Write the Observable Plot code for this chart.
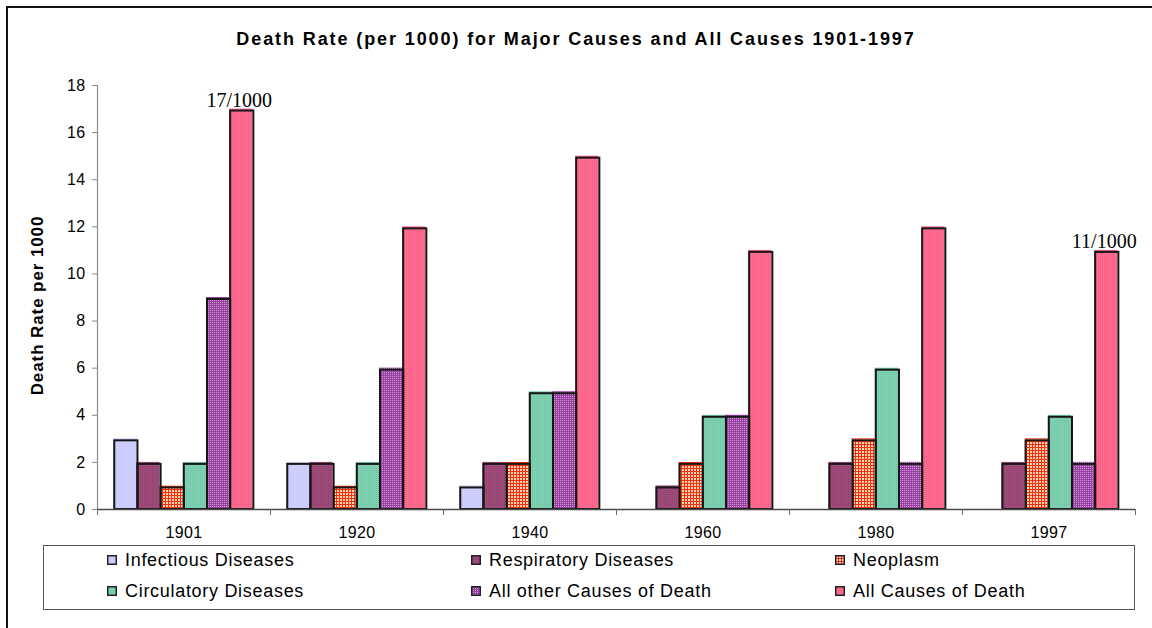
<!DOCTYPE html>
<html>
<head>
<meta charset="utf-8">
<script src="https://cdn.jsdelivr.net/npm/d3@7"></script>
<script src="https://cdn.jsdelivr.net/npm/@observablehq/plot@0.6"></script>
<style>
  body { margin: 0; background: #fff; }
  #wrap { position: relative; width: 1152px; height: 628px; overflow: hidden;
          font-family: Arial, "Liberation Sans", sans-serif; color: #000; }
  #frame { position: absolute; left: 6px; top: 6px; width: 1300px; height: 800px;
           border-left: 2px solid #111; border-top: 2px solid #111; }
  #title { position: absolute; left: 0; top: 30px; width: 1152px; text-align: center;
           font-weight: bold; font-size: 18px; line-height: 18px; letter-spacing: 1.9px; }
  #chart { position: absolute; left: 0; top: 0; }
  #chart g[aria-label$="tick label"],
  #chart g[aria-label$="tick label"] text { font-size: 16px !important; letter-spacing: 0.4px; }
  #legend { position: absolute; left: 43px; top: 545px; width: 1090px; height: 63px;
            border: 1px solid #555; background: #fff; }
  .item { position: absolute; font-size: 18px; line-height: 18px; letter-spacing: 0.7px; white-space: nowrap; }
  .item svg { position: absolute; left: 0; top: 4px; overflow: visible; }
  .item span { position: absolute; left: 18px; top: 0; }
</style>
</head>
<body>
<div id="wrap">
  <svg width="0" height="0" style="position:absolute">
    <defs>
      <pattern id="fill-inf" width="2" height="2" patternUnits="userSpaceOnUse">
        <rect width="2" height="2" fill="#CFCFFF"/><rect width="1" height="1" fill="#C6C6F6"/>
      </pattern>
      <pattern id="fill-resp" width="2" height="2" patternUnits="userSpaceOnUse">
        <rect width="2" height="2" fill="#A04C7A"/><rect width="1" height="1" fill="#8E3C68"/>
      </pattern>
      <pattern id="fill-neo" width="3" height="3" patternUnits="userSpaceOnUse">
        <rect width="3" height="3" fill="#F2300E"/><rect x="1" y="1" width="2" height="2" fill="#FFD2B4"/>
      </pattern>
      <pattern id="fill-circ" width="2" height="2" patternUnits="userSpaceOnUse">
        <rect width="2" height="2" fill="#80D0B2"/><rect width="1" height="1" fill="#6CC2A2"/>
      </pattern>
      <pattern id="fill-other" width="2" height="2" patternUnits="userSpaceOnUse">
        <rect width="2" height="2" fill="#9640A0"/><rect width="1" height="1" fill="#D49ADC"/>
      </pattern>
      <pattern id="fill-all" width="2" height="2" patternUnits="userSpaceOnUse">
        <rect width="2" height="2" fill="#FF6C90"/><rect width="1" height="1" fill="#F25A82"/>
      </pattern>
    </defs>
  </svg>
  <div id="frame"></div>
  <div id="title">Death Rate (per 1000) for Major Causes and All Causes 1901-1997</div>
  <div id="chart"></div>
  <div id="legend"></div>
</div>
<script>
// Years on the category axis
const years = ["1901", "1920", "1940", "1960", "1980", "1997"];

// Series names (legend order)
const causes = [
  "Infectious Diseases",
  "Respiratory Diseases",
  "Neoplasm",
  "Circulatory Diseases",
  "All other Causes of Death",
  "All Causes of Death"
];

// Death rate per 1000, one value per year
const infectious  = [3, 2, 1, 0, 0, 0];
const respiratory = [2, 2, 2, 1, 2, 2];
const neoplasm    = [1, 1, 2, 2, 3, 3];
const circulatory = [2, 2, 5, 4, 6, 4];
const allOther    = [9, 6, 5, 4, 2, 2];
const allCauses   = [17, 12, 15, 11, 12, 11];

// Fill for each series (patterns defined in the page's <defs>)
const fills = ["url(#fill-inf)", "url(#fill-resp)", "url(#fill-neo)",
               "url(#fill-circ)", "url(#fill-other)", "url(#fill-all)"];

// Y axis ticks
const yTicks = [0, 2, 4, 6, 8, 10, 12, 14, 16, 18];

// Years whose total is annotated
const annotatedYears = ["1901", "1997"];

const yLabel = "Death Rate per 1000";

// Long table for the bars
const series = [infectious, respiratory, neoplasm, circulatory, allOther, allCauses];
const rows = [];
years.forEach((year, gi) => {
  causes.forEach((cause, si) => {
    rows.push({ year, gi, cause, si, value: series[si][gi] });
  });
});

// Grouped layout inside each unit-wide year band
const barW = 0.134;
const gap = 0.094;
const x1 = d => d.gi - 0.5 + gap + d.si * barW;
const x2 = d => d.gi - 0.5 + gap + (d.si + 1) * barW;

const notes = annotatedYears.map(y => {
  const gi = years.indexOf(y);
  return { gi, si: causes.length - 1, value: allCauses[gi], text: `${allCauses[gi]}/1000` };
});

const boundaries = d3.range(years.length + 1).map(i => i - 0.5);
const centers = d3.range(years.length);

const chart = Plot.plot({
  width: 1152,
  height: 545,
  marginLeft: 97,
  marginRight: 17,
  marginTop: 85,
  marginBottom: 36,
  x: { domain: [-0.5, years.length - 0.5], axis: null },
  y: { domain: [0, 18], axis: null },
  color: { domain: causes, range: fills },
  style: { fontFamily: "Arial, 'Liberation Sans', sans-serif", fontSize: "16px",
           color: "#000", background: "transparent", overflow: "visible" },
  marks: [
    Plot.rectY(rows.filter(d => d.value > 0), { x1, x2, y1: 0, y2: "value", fill: "cause" }),
    Plot.rectY(rows.filter(d => d.value > 0), {
      x1, x2, y1: 0, y2: "value", fill: "none",
      stroke: "#161616", strokeWidth: 2, dx: 1, dy: 2, insetBottom: 2
    }),
    Plot.ruleX([-0.5], { y1: 0, y2: 18, stroke: "#8a8a8a", strokeWidth: 1.2 }),
    Plot.ruleY([0], { stroke: "#4a4a4a", strokeWidth: 1.5 }),
    Plot.axisY({ ticks: yTicks, tickSize: 5, tickPadding: 7, stroke: "#8a8a8a",
                 fill: "#000", fontSize: 16, label: null }),
    Plot.axisX({ ticks: boundaries, tickSize: 6, tickFormat: () => "", stroke: "#6a6a6a", label: null }),
    Plot.axisX({ ticks: centers, tickSize: 0, tickPadding: 17, tickFormat: i => years[i],
                 fill: "#000", fontSize: 16, label: null }),
    Plot.text(notes, {
      x: d => d.gi - 0.5 + gap + (d.si + 0.5) * barW, y: "value", text: "text",
      lineAnchor: "bottom", dy: -2, dx: -2,
      fontFamily: "'Liberation Serif', 'Times New Roman', serif", fontSize: 20, fill: "#000"
    }),
    Plot.text([yLabel], {
      frameAnchor: "left", textAnchor: "middle", rotate: -90, dx: -60, dy: 8,
      fontWeight: "bold", fontSize: 17, fill: "#000"
    })
  ]
});
document.getElementById("chart").appendChild(chart);

// Tracking on the axis title
d3.select(chart).selectAll("text").filter(function () { return this.textContent === yLabel; })
  .style("letter-spacing", "0.9px");

// Legend: three columns, two rows
const legend = d3.select("#legend");
causes.forEach((cause, i) => {
  const col = i % 3, row = Math.floor(i / 3);
  const item = legend.append("div").attr("class", "item")
    .style("left", `${63 + col * 364}px`)
    .style("top", `${5 + row * 31}px`);
  const sw = item.append("svg").attr("width", 10).attr("height", 10);
  sw.append("rect").attr("x", 0.75).attr("y", 0.75).attr("width", 8.5).attr("height", 8.5)
    .attr("fill", fills[i]).attr("stroke", "#222").attr("stroke-width", 1.5);
  item.append("span").text(cause);
});
</script>
</body>
</html>
